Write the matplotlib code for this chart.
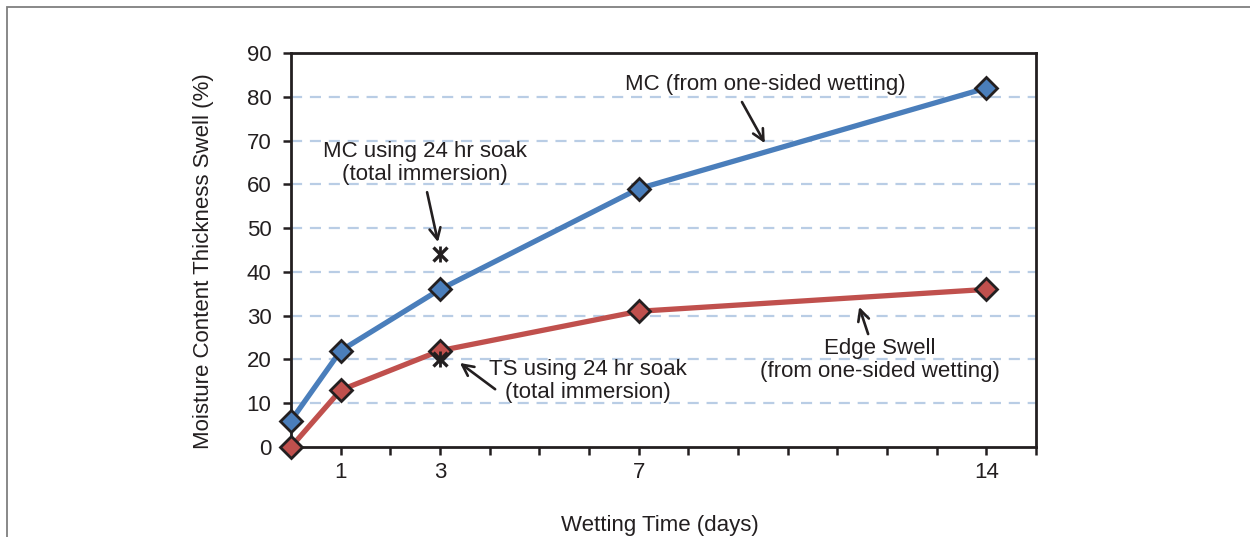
import matplotlib
matplotlib.use("Agg")
import matplotlib.pyplot as plt
from matplotlib.patches import Rectangle

# ---- data ----
days = [0, 1, 3, 7, 14]
mc_one_sided = [6, 22, 36, 59, 82]
edge_swell = [0, 13, 22, 31, 36]
soak_day = [3]
mc_soak = [44]
ts_soak = [20]

x_ticks = list(range(0, 16))
x_tick_labels = ["" if d not in (1, 3, 7, 14) else str(d) for d in x_ticks]
y_ticks = list(range(0, 100, 10))
grid_levels = list(range(10, 90, 10))

blue = "#4A7EBB"
red = "#C0504D"
edge = "#231F20"
grid_c = "#B9CDE5"

plt.rcParams["font.family"] = ["Liberation Sans", "DejaVu Sans"]
FS = 16

fig = plt.figure(figsize=(12.5, 5.37), dpi=100)
ax = fig.add_axes([291 / 1250, 1 - 447 / 537, (1036 - 291) / 1250, (447 - 53) / 537])

# outer frame (only top/left visible)
fig.patches.append(Rectangle((7 / 1250, -0.1), 1.2, 1 - 7 / 537 + 0.1,
                             transform=fig.transFigure, fill=False,
                             edgecolor="#7F7F7F", linewidth=1.3))

for g in grid_levels:
    ax.axhline(g, color=grid_c, lw=1.6, ls=(0, (5, 3.5)), zorder=1)

ax.plot(days, mc_one_sided, color=blue, lw=3.8, marker="D", ms=11.5,
        mfc=blue, mec=edge, mew=2.0, zorder=3, clip_on=False)
ax.plot(days, edge_swell, color=red, lw=3.8, marker="D", ms=11.5,
        mfc=red, mec=edge, mew=2.0, zorder=3, clip_on=False)

for yv in (mc_soak, ts_soak):
    ax.plot(soak_day, yv, ls="none", marker="x", ms=9.5, mew=2.4, color=edge, zorder=4)
    ax.plot(soak_day, yv, ls="none", marker="|", ms=11, mew=2.0, color=edge, zorder=4)

ax.set_xlim(0, 15)
ax.set_ylim(0, 90)
ax.set_xticks(x_ticks)
ax.set_xticklabels(x_tick_labels)
ax.set_yticks(y_ticks)
ax.tick_params(axis="both", direction="out", length=6, width=1.8, color=edge,
               labelsize=FS, labelcolor="#231F20")
ax.tick_params(axis="y", pad=8)
ax.tick_params(axis="x", pad=5)
for s in ax.spines.values():
    s.set_linewidth(2.0)
    s.set_color(edge)

ax.set_ylabel("Moisture Content Thickness Swell (%)", fontsize=FS, color="#231F20")
ax.yaxis.set_label_coords(-0.104, 0.472)
ax.set_xlabel("Wetting Time (days)", fontsize=FS, color="#231F20")
ax.xaxis.set_label_coords(0.495, -0.172)

# annotations: (text, text_xy, arrow_tail, arrow_tip)
notes = [
    ("MC (from one-sided wetting)", (9.54, 82.7), (9.08, 78.8), (9.54, 69.4)),
    ("MC using 24 hr soak\n(total immersion)", (2.70, 64.9), (2.74, 58.2), (2.96, 46.8)),
    ("TS using 24 hr soak\n(total immersion)", (5.98, 15.1), (4.11, 13.2), (3.40, 19.2)),
    ("Edge Swell\n(from one-sided wetting)", (11.86, 19.9), (11.62, 25.8), (11.44, 32.0)),
]
for txt, txy, tail, tip in notes:
    ax.text(txy[0], txy[1], txt, ha="center", va="center", fontsize=FS,
            color="#231F20", linespacing=1.1, zorder=5)
    ax.annotate("", xy=tip, xytext=tail,
                arrowprops=dict(arrowstyle="->,head_length=0.8,head_width=0.4",
                                lw=1.9, color=edge, shrinkA=0, shrinkB=0), zorder=5)

fig.savefig("out.png", dpi=100)
